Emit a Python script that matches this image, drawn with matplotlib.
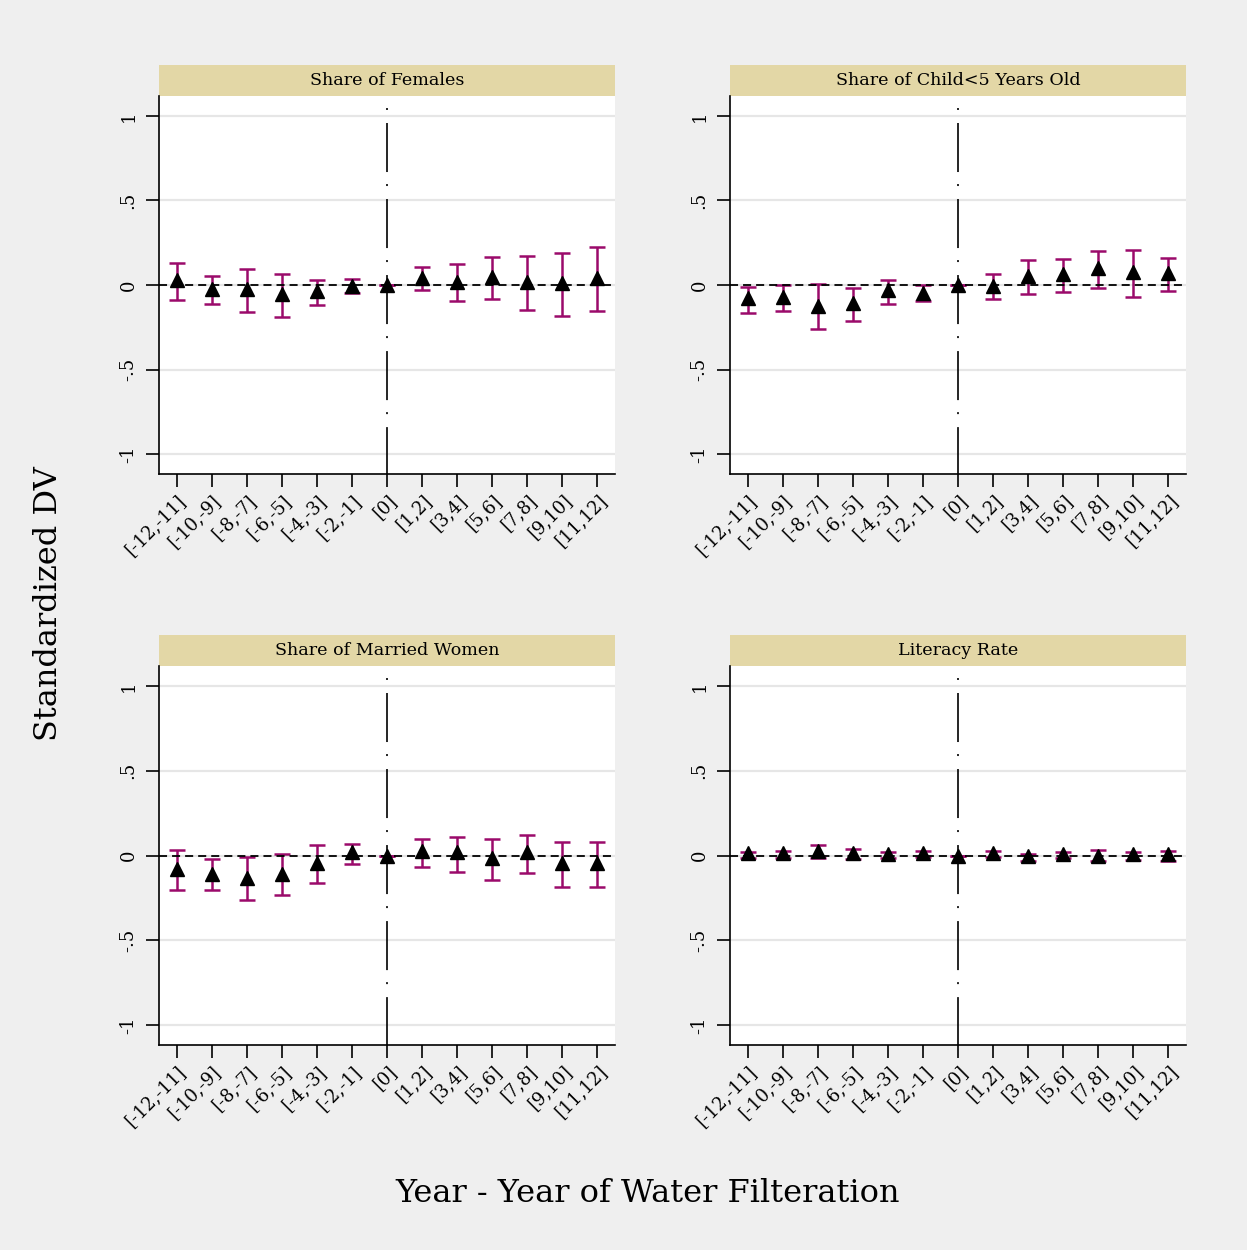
import numpy as np
import matplotlib
matplotlib.use("Agg")
import matplotlib.pyplot as plt
from matplotlib.patches import Rectangle

# Event-time bins
bins = ['[-12,-11]', '[-10,-9]', '[-8,-7]', '[-6,-5]', '[-4,-3]', '[-2,-1]', '[0]',
        '[1,2]', '[3,4]', '[5,6]', '[7,8]', '[9,10]', '[11,12]']

# Share of Females
fem_coef = [0.030, -0.026, -0.026, -0.055, -0.035, -0.004, 0.0, 0.043, 0.020, 0.049, 0.016, 0.010, 0.039]
fem_lo = [-0.089, -0.112, -0.158, -0.190, -0.116, -0.047, 0.0, -0.028, -0.095, -0.085, -0.146, -0.183, -0.152]
fem_hi = [0.128, 0.053, 0.095, 0.063, 0.028, 0.037, 0.0, 0.105, 0.122, 0.166, 0.172, 0.187, 0.223]

# Share of Child<5 Years Old
kid_coef = [-0.079, -0.069, -0.124, -0.108, -0.030, -0.045, 0.0, -0.006, 0.053, 0.063, 0.099, 0.079, 0.069]
kid_lo = [-0.166, -0.156, -0.258, -0.213, -0.112, -0.095, 0.0, -0.081, -0.055, -0.041, -0.018, -0.071, -0.037]
kid_hi = [-0.010, 0.000, 0.008, -0.016, 0.032, 0.000, 0.0, 0.065, 0.148, 0.152, 0.200, 0.207, 0.160]

# Share of Married Women
mar_coef = [-0.079, -0.107, -0.132, -0.110, -0.043, 0.018, 0.0, 0.026, 0.018, -0.014, 0.020, -0.043, -0.043]
mar_lo = [-0.201, -0.205, -0.264, -0.235, -0.160, -0.053, 0.0, -0.067, -0.099, -0.144, -0.105, -0.187, -0.183]
mar_hi = [0.032, -0.022, -0.008, 0.008, 0.059, 0.067, 0.0, 0.097, 0.110, 0.095, 0.118, 0.080, 0.080]

# Literacy Rate
lit_coef = [0.012, 0.016, 0.026, 0.012, 0.010, 0.016, 0.0, 0.016, -0.002, 0.010, -0.002, 0.006, 0.010]
lit_lo = [-0.012, -0.012, -0.012, -0.022, -0.014, -0.006, 0.0, -0.006, -0.030, -0.014, -0.034, -0.024, -0.030]
lit_hi = [0.018, 0.024, 0.060, 0.036, 0.020, 0.028, 0.0, 0.024, 0.008, 0.020, 0.032, 0.022, 0.028]

titles = ['Share of Females', 'Share of Child<5 Years Old', 'Share of Married Women', 'Literacy Rate']
yticks = [-1, -0.5, 0, 0.5, 1]
ytick_labels = ['-1', '-.5', '0', '.5', '1']

plt.rcParams['font.family'] = ['DejaVu Serif']
plt.rcParams['lines.scale_dashes'] = False

BG = '#efefef'
STRIP = '#e3d7a6'
CI_COL = '#9b0a6b'

W, H = 1247, 1250
fig = plt.figure(figsize=(W / 100, H / 100), dpi=100, facecolor=BG)

# axes boxes in pixels: (left, top, right, bottom)
boxes = [(159, 96, 615, 474), (730, 96, 1186, 474),
         (159, 666, 615, 1045), (730, 666, 1186, 1045)]
panels = [(fem_coef, fem_lo, fem_hi), (kid_coef, kid_lo, kid_hi),
          (mar_coef, mar_lo, mar_hi), (lit_coef, lit_lo, lit_hi)]

x = np.arange(1, len(bins) + 1)
ylo, yhi = -1.118, 1.118
i0 = bins.index('[0]') + 1

for (l, t, r, b), (coef, lo, hi), title in zip(boxes, panels, titles):
    ax = fig.add_axes([l / W, 1 - b / H, (r - l) / W, (b - t) / H])
    ax.set_facecolor('white')
    ax.set_xlim(0.5, 13.5)
    ax.set_ylim(ylo, yhi)

    for yv in yticks:
        ax.axhline(yv, color='#e6e6e6', lw=1.6, zorder=0)

    coef = np.array(coef)
    lo = np.array(lo)
    hi = np.array(hi)
    ax.errorbar(x, coef, yerr=[coef - lo, hi - coef], fmt='none', ecolor=CI_COL,
                elinewidth=1.8, capsize=6, capthick=1.8, zorder=2)
    ax.axhline(0, color='black', lw=1.3, linestyle=(0, (5.8, 3.6)), zorder=3)
    ax.plot([i0, i0], [yhi, ylo], color='black', lw=1.2,
            linestyle=(46.1, (1.44, 9.36, 35.3, 8.64)), zorder=3)
    ax.plot(x, coef, linestyle='none', marker='^', color='black', markersize=10, zorder=4)

    ax.spines['top'].set_visible(False)
    ax.spines['right'].set_visible(False)
    for s in ['left', 'bottom']:
        ax.spines[s].set_linewidth(1.2)

    ax.set_yticks(yticks)
    ax.set_yticklabels(ytick_labels, rotation=90, va='center', fontsize=13)
    ax.set_xticks(x)
    ax.set_xticklabels(bins, rotation=45, ha='right', rotation_mode='anchor', fontsize=13)
    ax.tick_params(axis='both', length=9.4, width=1.2, direction='out', pad=3)
    ax.tick_params(axis='y', pad=6)

    strip_h = 31 / (b - t)
    ax.add_patch(Rectangle((0, 1), 1, strip_h, transform=ax.transAxes, facecolor=STRIP,
                           edgecolor='none', clip_on=False))
    ax.text(0.5, 1 + strip_h / 2, title, transform=ax.transAxes, ha='center', va='center',
            fontsize=12.6)

fig.text(0.0385, 0.5168, 'Standardized DV', rotation=90, ha='center', va='center', fontsize=23)
fig.text(0.5197, 0.0456, 'Year - Year of Water Filteration', ha='center', va='center', fontsize=23)

fig.savefig('out.png', dpi=100, facecolor=BG)
